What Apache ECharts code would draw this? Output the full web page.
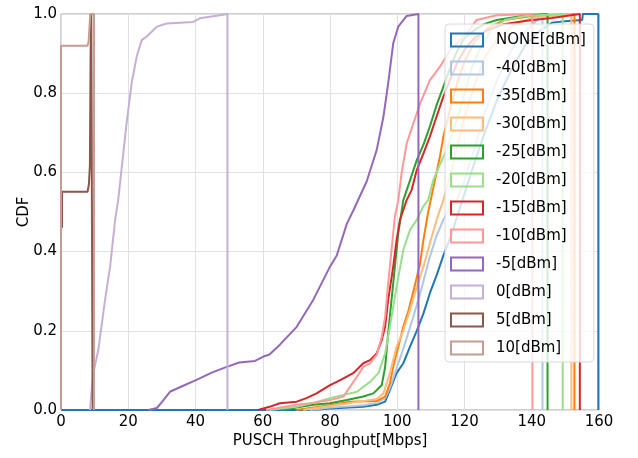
<!DOCTYPE html>
<html>
<head>
<meta charset="utf-8">
<script src="https://cdn.jsdelivr.net/npm/echarts@6/dist/echarts.min.js"></script>
<style>html,body{margin:0;padding:0;background:#fff;}#c{width:638px;height:458px;}</style>
</head>
<body>
<div id="c"></div>
<script>
const seriesNames = ['NONE[dBm]','-40[dBm]','-35[dBm]','-30[dBm]','-25[dBm]','-20[dBm]','-15[dBm]','-10[dBm]','-5[dBm]','0[dBm]','5[dBm]','10[dBm]'];
const colors = ['#1f77b4','#aec7e8','#ff7f0e','#ffbb78','#2ca02c','#98df8a','#d62728','#ff9896','#9467bd','#c5b0d5','#8c564b','#c49c94'];
const xTicks = [0,20,40,60,80,100,120,140,160];
const yTicks = [0.0,0.2,0.4,0.6,0.8,1.0];

const cdfNone = [[0,0],[75,0],[80,0.004],[89.9,0.008],[93.9,0.013],[96.4,0.021],[97.8,0.05],[99.8,0.093],[101.8,0.118],[103.8,0.16],[105.8,0.2],[107.8,0.244],[109.7,0.295],[111.7,0.34],[113.7,0.39],[116,0.44],[119,0.52],[122,0.6],[126,0.7],[130,0.79],[134,0.86],[138,0.92],[142,0.955],[146,0.978],[150,0.982],[155,0.985],[155.2,1.0],[159.8,1.0],[159.8,0]];
const cdfM40 = [[74,0],[80,0.006],[90,0.012],[94,0.018],[96.4,0.03],[98,0.06],[100,0.11],[102,0.16],[104.8,0.236],[107,0.3],[109.7,0.387],[111.7,0.44],[113.7,0.48],[115.7,0.51],[117.7,0.53],[120,0.58],[123,0.66],[126,0.75],[130,0.84],[134,0.91],[138,0.955],[141,0.98],[143.2,1.0],[143.2,0]];
const cdfM35 = [[70,0],[73,0.004],[80,0.012],[86,0.021],[93.9,0.023],[96.4,0.034],[97.8,0.067],[98.8,0.109],[100.3,0.16],[101.8,0.21],[103.3,0.25],[104.8,0.3],[106.8,0.37],[107.8,0.43],[109.2,0.5],[110.7,0.56],[112.7,0.64],[113.7,0.69],[116,0.77],[118,0.83],[120,0.88],[123,0.93],[127,0.965],[132,0.985],[140,0.995],[152.7,1.0],[152.7,0]];
const cdfM30 = [[72,0],[80,0.01],[88,0.02],[93.9,0.028],[95.9,0.042],[97.8,0.093],[99.8,0.16],[101.8,0.2],[103.8,0.253],[105.8,0.311],[107.8,0.362],[109.7,0.421],[111.7,0.48],[113.7,0.53],[116,0.6],[118,0.67],[120,0.74],[123,0.82],[126,0.89],[130,0.94],[135,0.975],[140,0.99],[151.8,1.0],[151.8,0]];
const cdfM25 = [[66,0],[70,0.006],[75,0.013],[80,0.017],[85,0.025],[89.9,0.034],[92.9,0.042],[95.4,0.063],[96.4,0.109],[97.3,0.194],[98.3,0.278],[99.3,0.362],[100.3,0.446],[101.8,0.53],[103.8,0.58],[105.8,0.631],[107.8,0.67],[109.7,0.716],[111.7,0.77],[113.7,0.816],[116,0.87],[118,0.91],[120,0.94],[123,0.96],[126,0.975],[129.6,0.985],[138.5,0.997],[144.7,1.0],[144.7,0]];
const cdfM20 = [[62,0],[70.1,0.008],[75,0.018],[80,0.03],[88,0.046],[91.9,0.071],[94.4,0.093],[96.4,0.143],[97.8,0.21],[99.8,0.311],[101.8,0.404],[103.8,0.455],[105.8,0.48],[107.8,0.515],[109.2,0.53],[110.7,0.58],[112.7,0.62],[114.7,0.657],[116,0.69],[118,0.74],[120,0.8],[122,0.86],[125,0.92],[128,0.96],[132,0.985],[138,0.995],[149.2,1.0],[149.2,0]];
const cdfM15 = [[58.6,0],[62,0.008],[65.1,0.017],[70.1,0.021],[73,0.03],[76,0.042],[80,0.063],[82,0.071],[84,0.08],[86.9,0.093],[89.9,0.118],[91.9,0.126],[93.9,0.143],[95.4,0.177],[96.4,0.21],[97.3,0.278],[98.8,0.362],[99.8,0.429],[100.8,0.48],[101.8,0.505],[102.8,0.53],[104.3,0.556],[105.8,0.606],[107.8,0.648],[109.7,0.69],[110.7,0.716],[113.7,0.791],[116,0.84],[118,0.88],[120,0.91],[123,0.94],[127,0.96],[132,0.975],[138.5,0.983],[146,0.99],[154.3,1.0],[154.3,0]];
const cdfM10 = [[61,0],[65,0.006],[70,0.013],[75,0.018],[80,0.025],[84,0.034],[86,0.059],[88,0.084],[89.9,0.109],[91.9,0.118],[93.9,0.139],[95.4,0.185],[96.4,0.236],[97.3,0.32],[98.3,0.404],[99.3,0.488],[100.3,0.53],[101.3,0.598],[102.8,0.673],[104.8,0.724],[106.8,0.774],[109.7,0.833],[112.7,0.867],[115.7,0.909],[120.7,0.95],[123.6,0.985],[129.6,0.997],[140.2,1.0],[140.2,0]];
const cdfM5 = [[26,0],[28.5,0.005],[30,0.02],[32.4,0.046],[36,0.06],[40.3,0.076],[45,0.095],[49.3,0.109],[53,0.12],[57.7,0.124],[60.2,0.135],[62,0.14],[65.1,0.165],[70.1,0.21],[75,0.278],[80,0.362],[82,0.39],[85,0.47],[87,0.505],[90.9,0.577],[93.9,0.657],[95.9,0.741],[97.3,0.825],[98.8,0.926],[100.3,0.968],[102.8,0.995],[106.3,1.0],[106.3,0]];
const cdf0 = [[8.6,0],[8.9,0.03],[9.6,0.093],[11.1,0.152],[13.1,0.278],[14.6,0.362],[16.1,0.48],[17,0.53],[19.5,0.724],[21,0.825],[22.5,0.892],[24,0.934],[25.5,0.943],[28.5,0.968],[31.4,0.976],[39.3,0.98],[41.3,0.989],[47.3,0.997],[49.5,1.0],[49.5,0]];
const cdf5 = [[0.3,0.46],[0.3,0.551],[7.9,0.551],[8.3,0.57],[8.6,0.62],[8.8,0.9],[9.0,1.0],[9.4,1.0],[9.4,0]];
const cdf10 = [[0,0],[0,0.92],[7.9,0.92],[8.2,0.93],[8.5,0.97],[8.7,1.0],[9.8,1.0],[9.8,0]];

const allData = [cdfNone,cdfM40,cdfM35,cdfM30,cdfM25,cdfM20,cdfM15,cdfM10,cdfM5,cdf0,cdf5,cdf10];

const chart = echarts.init(document.getElementById('c'), null, {renderer:'canvas'});
const font = 'DejaVu Sans';
const series = allData.map((d,i)=>({
  name: seriesNames[i], type:'line', data:d, showSymbol:false, symbol:'none',
  lineStyle:{color:colors[i], width:2}, itemStyle:{color:colors[i]}, animation:false, clip:true
}));
chart.setOption({
  animation:false,
  color: colors,
  grid:{left:61,right:39,top:14,bottom:48,show:true,borderColor:'#a0a0a0',borderWidth:1,backgroundColor:'transparent'},
  xAxis:{type:'value',min:0,max:160,interval:20,
    name:'PUSCH Throughput[Mbps]',nameLocation:'middle',nameGap:24,nameMoveOverlap:false,
    nameTextStyle:{fontFamily:font,fontSize:15,color:'#000'},
    axisLine:{show:false},axisTick:{show:false},
    axisLabel:{fontFamily:font,fontSize:15,color:'#000',margin:5,
      formatter:v=>xTicks.includes(v)?String(v):''},
    splitLine:{show:true,lineStyle:{color:'#e0e0e0',width:1}}},
  yAxis:{type:'value',min:0,max:1,interval:0.2,
    name:'CDF',nameLocation:'middle',nameGap:29,nameRotate:90,nameMoveOverlap:false,
    nameTextStyle:{fontFamily:font,fontSize:15,color:'#000'},
    axisLine:{show:false},axisTick:{show:false},
    axisLabel:{fontFamily:font,fontSize:15,color:'#000',margin:4,
      formatter:v=>{const t=yTicks.find(y=>Math.abs(y-v)<1e-9);return t===undefined?'':t.toFixed(1);}},
    splitLine:{show:true,lineStyle:{color:'#e0e0e0',width:1}}},
  legend:{
    orient:'vertical', left:445, top:24,
    backgroundColor:'rgba(255,255,255,0.8)', borderColor:'#d8d8d8', borderWidth:1, borderRadius:4,
    padding:[8,8,6,5], itemWidth:32, itemHeight:13, itemGap:12,
    textStyle:{fontFamily:font,fontSize:15,color:'#000',lineHeight:16,padding:[0,0,0,8]},
    data: seriesNames.map((n,i)=>({name:n,icon:'rect',itemStyle:{color:'rgba(255,255,255,0)',borderColor:colors[i],borderWidth:2}}))
  },
  series: series
});
</script>
</body>
</html>
